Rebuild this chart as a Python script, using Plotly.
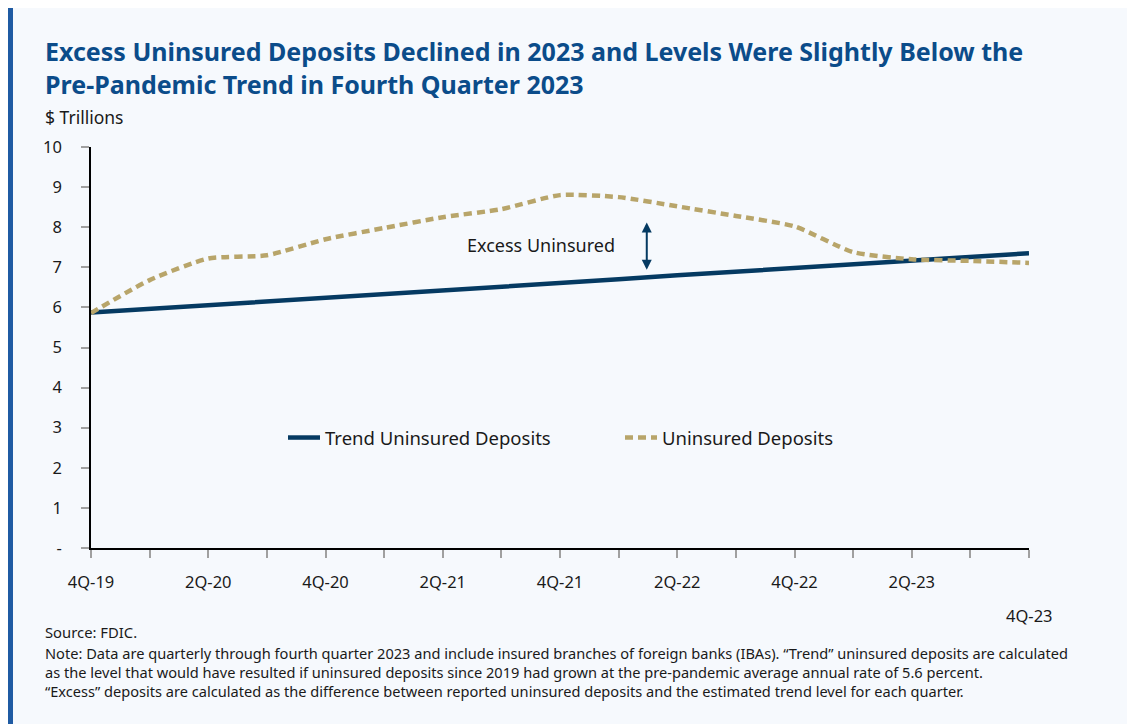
import plotly.graph_objects as go

# quarterly data, 4Q-19 .. 4Q-23 ($ trillions)
quarters = ["4Q-19", "1Q-20", "2Q-20", "3Q-20", "4Q-20", "1Q-21", "2Q-21", "3Q-21", "4Q-21",
            "1Q-22", "2Q-22", "3Q-22", "4Q-22", "1Q-23", "2Q-23", "3Q-23", "4Q-23"]
trend = [5.87, 5.96, 6.06, 6.15, 6.24, 6.33, 6.43, 6.52, 6.61,
         6.70, 6.80, 6.89, 6.98, 7.07, 7.17, 7.26, 7.35]
uninsured = [5.86, 6.68, 7.22, 7.30, 7.70, 7.98, 8.25, 8.45, 8.80,
             8.75, 8.52, 8.28, 8.02, 7.38, 7.20, 7.16, 7.11]
ytick_vals = [0, 1, 2, 3, 4, 5, 6, 7, 8, 9, 10]
ytick_text = ["-", "1", "2", "3", "4", "5", "6", "7", "8", "9", "10"]

xs = list(range(len(quarters)))
xtick_text = [q if (i % 2 == 0 and i < len(quarters) - 1) else "" for i, q in enumerate(quarters)]

FONT = "Noto Sans"
NAVY = "#053a62"
TAN = "#b8a56a"
PANEL = "#f6f9fd"
BLUE = "#1f5ba3"
TXT = "#1a1a1a"

# the page body adds an 8px margin, so the figure is 8px smaller and sits at (8, 8)
OFF = 8

fig = go.Figure()
fig.add_trace(go.Scatter(x=xs, y=trend, mode="lines", name="Trend Uninsured Deposits",
                         line=dict(color=NAVY, width=4.5)))
fig.add_trace(go.Scatter(x=xs, y=uninsured, mode="lines", name="Uninsured Deposits",
                         line=dict(color=TAN, width=4.5, dash="8px,5px", shape="spline",
                                   smoothing=0.6)))

# page pixel -> paper helpers (plot area 91..1029 x 147..548 on the page)
def px(x):
    return (x - 91) / 938.0

def py(y):
    return (548 - y) / 401.0

shapes = [
    dict(type="rect", xref="paper", yref="paper", x0=px(4), x1=px(13), y0=py(724), y1=py(8),
         fillcolor=BLUE, line_width=0, layer="below"),
]

notes = ("Note: Data are quarterly through fourth quarter 2023 and include insured branches of foreign banks (IBAs). "
         "\u201cTrend\u201d uninsured deposits are calculated<br>as the level that would have resulted if uninsured "
         "deposits since 2019 had grown at the pre-pandemic average annual rate of 5.6 percent.<br>"
         "\u201cExcess\u201d deposits are calculated as the difference between reported uninsured deposits and the "
         "estimated trend level for each quarter.")

annotations = [
    dict(text="<b>Excess Uninsured Deposits Declined in 2023 and Levels Were Slightly Below the<br>"
              "Pre-Pandemic Trend in Fourth Quarter 2023</b>",
         xref="paper", yref="paper", x=px(43), y=py(32), xanchor="left", yanchor="top",
         align="left", showarrow=False, font=dict(family=FONT, size=25, color="#0b4c8a")),
    dict(text="$ Trillions", xref="paper", yref="paper", x=px(43), y=py(117), xanchor="left",
         yanchor="middle", showarrow=False, font=dict(family=FONT, size=17.5, color=TXT)),
    dict(text="4Q-23", xref="x", yref="paper", x=xs[-1], y=py(615), xanchor="center",
         yanchor="middle", showarrow=False, font=dict(family=FONT, size=16.5, color=TXT)),
    dict(text="Excess Uninsured", xref="x", yref="y", x=8.97, y=7.56, xanchor="right",
         showarrow=False, font=dict(family=FONT, size=18, color=TXT)),
    # double-headed arrow between trend and reported levels
    dict(text="", xref="x", yref="y", x=9.48, y=8.12, ax=9.48, ay=6.9, axref="x", ayref="y",
         showarrow=True, arrowhead=2, startarrowhead=2, arrowside="end+start",
         arrowsize=1, arrowwidth=2, arrowcolor=NAVY, standoff=0, startstandoff=0),
    dict(text="Source: FDIC.", xref="paper", yref="paper", x=px(43), y=py(632), xanchor="left",
         yanchor="middle", showarrow=False, font=dict(family=FONT, size=14.8, color=TXT)),
    dict(text=notes, xref="paper", yref="paper", x=px(43), y=py(641), xanchor="left",
         yanchor="top", align="left", showarrow=False,
         font=dict(family=FONT, size=14.6, color=TXT)),
]

fig.update_layout(
    width=1135 - OFF, height=724 - OFF,
    margin=dict(l=91 - OFF, r=1135 - 1029, t=147 - OFF, b=724 - 548),
    paper_bgcolor=PANEL, plot_bgcolor=PANEL,
    font=dict(family=FONT, size=16.5, color=TXT),
    shapes=shapes, annotations=annotations,
    legend=dict(orientation="h", x=px(283), y=py(438), xanchor="left", yanchor="middle",
                bgcolor="rgba(0,0,0,0)", font=dict(family=FONT, size=18.5, color=TXT),
                entrywidth=290, itemwidth=32),
)
fig.update_xaxes(range=[0, 16], tickvals=xs, ticktext=xtick_text, showgrid=False, zeroline=False,
                 showline=True, linecolor="black", linewidth=1.5, ticks="outside", ticklen=8,
                 tickwidth=2, tickcolor="#a0a0a0", ticklabelstandoff=10,
                 tickfont=dict(family=FONT, size=16.5))
fig.update_yaxes(range=[0, 10], tickvals=ytick_vals, ticktext=ytick_text, showgrid=False,
                 zeroline=False, showline=True, linecolor="black", linewidth=1.5, ticks="outside",
                 ticklen=8, tickwidth=2, tickcolor="#a0a0a0", ticklabelstandoff=16,
                 tickfont=dict(family=FONT, size=16.5))

fig.write_html("out.html")
